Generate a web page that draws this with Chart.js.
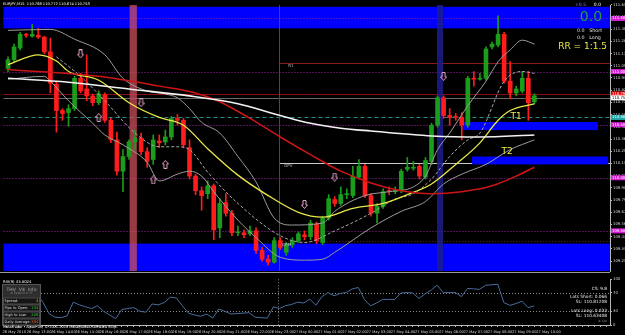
<!DOCTYPE html>
<html>
<head>
<meta charset="utf-8">
<script src="https://cdn.jsdelivr.net/npm/chart.js@4.4.1/dist/chart.umd.min.js"></script>
<style>
  html, body { margin: 0; padding: 0; background: #000; }
  #wrap { position: relative; width: 625px; height: 335px; background: #000; overflow: hidden; }
  #main { position: absolute; left: 0; top: 0; }
  #sub { position: absolute; left: 0; top: 276px; }
</style>
</head>
<body>
<div id="wrap">
  <canvas id="main" width="625" height="276"></canvas>
  <canvas id="sub" width="625" height="59"></canvas>
</div>
<script>
// EURJPY M15 candles, 26 May 12:00 onward
const opens = [111.029,111.112,111.222,111.351,111.333,111.342,111.324,111.186,110.882,110.633,
  110.614,110.651,110.937,110.836,110.771,110.707,110.780,110.541,110.357,110.062,
  110.200,110.338,110.375,110.246,110.172,110.347,110.338,110.384,110.559,110.541,
  110.283,110.016,109.878,109.850,109.924,109.528,109.767,109.666,109.482,109.482,
  109.472,109.500,109.316,109.233,109.205,109.408,109.298,109.371,109.408,109.463,
  109.445,109.565,109.390,109.620,109.795,109.758,109.841,109.832,110.007,110.108,
  109.832,109.666,109.730,109.878,109.869,109.878,110.080,110.090,110.108,110.007,
  110.154,110.495,110.753,110.587,110.578,110.568,110.495,110.937,110.928,110.937,
  111.232,111.250,111.351,110.909,110.799,110.817,110.937,110.716];
const highs = [111.139,111.259,111.370,111.360,111.443,111.407,111.333,111.314,110.909,110.651,
  110.688,110.955,110.983,111.158,110.789,110.817,110.799,110.559,110.430,110.265,
  110.357,110.449,110.421,110.283,110.403,110.403,110.449,110.578,110.596,110.559,
  110.357,110.034,109.914,109.970,109.942,109.804,109.850,109.694,109.546,109.509,
  109.546,109.528,109.344,109.270,109.436,109.436,109.390,109.436,109.491,109.500,
  109.601,109.583,109.638,109.841,109.822,109.914,109.896,110.108,110.172,110.126,
  109.850,109.758,109.896,109.914,109.914,110.080,110.191,110.154,110.126,110.191,
  110.513,110.771,110.771,110.651,110.605,110.614,110.955,111.001,110.983,111.232,
  111.278,111.526,111.370,111.093,110.863,111.001,111.001,110.789];
const lows = [111.001,111.093,111.204,111.324,111.324,111.314,111.167,110.799,110.430,110.541,
  110.486,110.633,110.799,110.725,110.679,110.688,110.522,110.330,110.025,109.869,
  110.172,110.265,110.218,110.099,110.126,110.283,110.310,110.357,110.495,110.283,
  109.988,109.841,109.694,109.804,109.417,109.436,109.638,109.454,109.454,109.436,
  109.454,109.288,109.215,109.178,109.196,109.325,109.270,109.344,109.390,109.417,
  109.417,109.380,109.371,109.601,109.730,109.740,109.804,109.813,109.988,109.813,
  109.638,109.574,109.712,109.841,109.850,109.859,110.062,110.071,109.988,109.988,
  110.126,110.476,110.559,110.495,110.541,110.357,110.476,110.863,110.918,110.918,
  111.213,111.232,110.891,110.743,110.771,110.799,110.541,110.697];
const closes = [111.112,111.232,111.351,111.342,111.351,111.324,111.186,110.891,110.633,110.605,
  110.651,110.937,110.817,110.771,110.707,110.789,110.541,110.357,110.062,110.200,
  110.338,110.375,110.246,110.154,110.357,110.329,110.384,110.559,110.541,110.310,
  110.016,109.878,109.832,109.924,109.509,109.758,109.666,109.482,109.491,109.463,
  109.500,109.316,109.233,109.205,109.408,109.344,109.371,109.408,109.472,109.445,
  109.574,109.408,109.620,109.804,109.758,109.841,109.850,110.016,110.108,109.832,
  109.666,109.730,109.869,109.869,109.878,110.062,110.099,110.099,110.016,110.163,
  110.495,110.753,110.587,110.568,110.568,110.495,110.937,110.928,110.937,111.213,
  111.259,111.351,110.909,110.799,110.836,110.937,110.707,110.771];

// indicator lines, read as [bar, price]
const yellowMA = [[0,111.066],[5,111.158],[8,111.100],[10,111.001],[15,110.918],[20,110.707],[25,110.568],
  [29,110.495],[33,110.274],[38,110.025],[43,109.832],[48,109.675],[52,109.629],[57,109.712],[62,109.758],
  [66,109.841],[70,109.942],[74,110.126],[78,110.329],[81,110.541],[83,110.633],[87,110.697]];
const redMA = [[0,111.020],[15,110.955],[25,110.863],[31,110.799],[35,110.716],[40,110.559],[45,110.384],
  [50,110.218],[55,110.062],[60,109.951],[65,109.878],[70,109.850],[75,109.869],[80,109.924],[84,110.016],[87,110.099]];
const whiteMA = [[0,110.937],[10,110.900],[20,110.836],[30,110.771],[38,110.697],[45,110.587],[50,110.513],
  [55,110.467],[60,110.440],[70,110.394],[78,110.384],[87,110.403]];
const upperBand = [[0,111.388],[7,111.397],[11,111.305],[16,111.158],[19,110.937],[23,110.817],[26,110.789],
  [28,110.753],[30,110.651],[32,110.522],[35,110.421],[38,110.200],[41,109.960],[44,109.620],[47,109.555],
  [52,109.574],[54,109.684],[59,109.832],[63,109.869],[67,109.914],[69,110.016],[71,110.265],[73,110.421],
  [76,110.679],[79,110.909],[81,111.093],[83,111.204],[85,111.296],[87,111.259]];
const middleBand = [[8,111.139],[12,110.955],[16,110.725],[21,110.421],[25,110.292],[28,110.292],[30,110.265],
  [33,110.053],[38,109.758],[45,109.454],[49,109.390],[54,109.500],[60,109.666],[64,109.800],[67,109.850],
  [70,109.988],[73,110.200],[76,110.357],[78,110.421],[82,110.909],[85,111.001],[87,110.983]];
const lowerBand = [[0,110.928],[6,110.955],[7,110.909],[10,110.725],[14,110.513],[16,110.403],[19,110.310],
  [23,110.145],[25,109.970],[28,110.034],[30,110.062],[32,110.016],[34,109.869],[38,109.601],[41,109.436],
  [45,109.251],[49,109.224],[52,109.233],[54,109.298],[60,109.528],[65,109.684],[69,109.776],[72,109.942],
  [75,110.034],[79,110.126],[83,110.265],[87,110.357]];

const arrowsUp = [[15,110.568],[24,109.979],[26,110.126]];
const arrowsDown = [[12,111.167],[22,110.707],[49,109.749],[54,110.007],[72,110.955]];

const rsiValues = [60,66,72,70,70,66,50,25,17,16,20,50,44,40,36,42,30,22,14,34,
  36,38,30,28,46,44,49,61,59,42,26,22,19,24,15,35,30,24,25,26,
  27,17,16,15,40,36,42,45,50,48,57,43,62,71,64,69,71,79,82,56,
  42,48,56,56,56,70,71,70,58,68,76,87,71,71,71,62,80,79,78,87,
  88,89,49,43,47,52,38,42];

// levels and zones (price)
const roundLevels = [111.5, 111.0, 110.5, 110.0, 109.5];
const redLevel = 110.790;
const bidLevel = 110.753;
const tealLevel = 110.568;
const r1Level = 111.080;
const dpvLevel = 110.140;
const s1Level = 109.400;
const topZone = [111.407, 111.610];
const bottomZone = [109.122, 109.380];
const t1Zone = [110.449, 110.525];
const t2Zone = [110.126, 110.200];
const t1Bars = [75.1, 97.5];
const t2Bars = [76.7, 99.2];
const redTimeZone = [20.1, 21.3];
const blueTimeZone = [70.9, 71.9];
const dayStartBar = 45;

const priceTicks = [111.630,111.515,111.400,111.285,111.170,111.055,110.940,110.825,110.710,110.595,110.480,
  110.365,110.250,110.135,110.020,109.905,109.790,109.675,109.560,109.445,109.330,109.215];
const rsiTicks = [100, 70, 30, 0];
const timeLabels = ['26 May 2010','26 May 13:00','26 May 14:00','26 May 15:00','26 May 16:00','26 May 17:00',
  '26 May 18:00','26 May 19:00','26 May 20:00','26 May 21:00','26 May 22:00','26 May 23:00','27 May 00:00',
  '27 May 01:00','27 May 02:00','27 May 03:00','27 May 04:00','27 May 05:00','27 May 06:00','27 May 07:00',
  '27 May 08:00','27 May 09:00','27 May 10:00'];

const SLOTS = 100;
const slots = Array.from({ length: SLOTS }, (_, i) => i);
const UP = '#1c9c1c', DOWN = '#ff1c1c';
const FONT = 'DejaVu Sans';
const candleColors = opens.map((o, i) => closes[i] >= o ? UP : DOWN);
const pts = arr => arr.map(([x, y]) => ({ x, y }));

function arrowImg(up) {
  const c = document.createElement('canvas');
  c.width = 7; c.height = 9;
  const g = c.getContext('2d');
  g.strokeStyle = '#e8a6c8';
  g.lineWidth = 1;
  const p = up
    ? [[3.5,0.5],[6.5,4],[5,4],[5,8.5],[2,8.5],[2,4],[0.5,4]]
    : [[3.5,8.5],[6.5,5],[5,5],[5,0.5],[2,0.5],[2,5],[0.5,5]];
  g.beginPath();
  g.moveTo(p[0][0], p[0][1]);
  p.slice(1).forEach(q => g.lineTo(q[0], q[1]));
  g.closePath();
  g.stroke();
  return c;
}

function hline(ctx, x0, x1, y, color, dash) {
  ctx.save();
  ctx.strokeStyle = color;
  ctx.lineWidth = 1;
  ctx.setLineDash(dash || []);
  ctx.beginPath();
  ctx.moveTo(x0, Math.round(y) + 0.5);
  ctx.lineTo(x1, Math.round(y) + 0.5);
  ctx.stroke();
  ctx.restore();
}

function txt(ctx, s, x, y, size, color, align) {
  ctx.font = size + 'px "' + FONT + '"';
  ctx.fillStyle = color;
  ctx.textAlign = align || 'left';
  ctx.textBaseline = 'middle';
  ctx.fillText(s, x, y);
}

const mainDecor = {
  id: 'mainDecor',
  beforeDatasetsDraw(chart) {
    const { ctx, chartArea: a, scales: { x, y } } = chart;
    const px = v => x.getPixelForValue(v), py = v => y.getPixelForValue(v);
    ctx.save();
    // blue zones
    ctx.fillStyle = '#0000ff';
    ctx.fillRect(a.left - 1.5, py(topZone[1]), a.right - a.left + 1.5, py(topZone[0]) - py(topZone[1]));
    ctx.fillRect(a.left - 1.5, py(bottomZone[1]), a.right - a.left + 1.5, a.bottom - py(bottomZone[1]));
    // levels
    roundLevels.forEach(v => hline(ctx, a.left - 1.5, a.right, py(v), '#a020a8', [1, 2]));
    hline(ctx, a.left - 1.5, a.right, py(redLevel), '#8a0c0c');
    hline(ctx, a.left - 1.5, a.right, py(bidLevel), '#6a6a6a');
    hline(ctx, a.left - 1.5, a.right, py(tealLevel), '#1f8c8c', [4, 3]);
    const d0 = px(dayStartBar) - 1;
    hline(ctx, d0, a.right, py(r1Level), '#8a1c1c');
    hline(ctx, d0, a.right, py(dpvLevel), '#c8c8c8');
    hline(ctx, d0, a.right, py(s1Level), '#7a2020', [1, 2]);
    // time zones
    ctx.fillStyle = 'rgba(205,78,92,0.74)';
    ctx.fillRect(px(redTimeZone[0]), a.top, px(redTimeZone[1]) - px(redTimeZone[0]), a.bottom - a.top);
    ctx.fillStyle = 'rgba(28,28,140,0.85)';
    ctx.fillRect(px(blueTimeZone[0]), a.top, px(blueTimeZone[1]) - px(blueTimeZone[0]), a.bottom - a.top);
    // day separator
    ctx.strokeStyle = '#4a4a4a';
    ctx.beginPath();
    ctx.moveTo(Math.round(d0) + 0.5, a.top);
    ctx.lineTo(Math.round(d0) + 0.5, a.bottom);
    ctx.stroke();
    // target boxes
    ctx.fillStyle = '#0000ff';
    ctx.fillRect(px(t1Bars[0]), py(t1Zone[1]), px(t1Bars[1]) - px(t1Bars[0]), py(t1Zone[0]) - py(t1Zone[1]));
    ctx.fillRect(px(t2Bars[0]), py(t2Zone[1]), px(t2Bars[1]) - px(t2Bars[0]), py(t2Zone[0]) - py(t2Zone[1]));
    ctx.restore();
  },
  afterDraw(chart) {
    const { ctx, chartArea: a, scales: { x, y } } = chart;
    const px = v => x.getPixelForValue(v), py = v => y.getPixelForValue(v);
    ctx.save();
    const d0 = px(dayStartBar);
    txt(ctx, 'R1', d0 + 8, py(r1Level) + 3, 4, '#b8b8b8');
    txt(ctx, 'DPV', d0 + 4, py(dpvLevel) + 3.5, 4, '#b8b8b8');
    txt(ctx, 'CPM', d0 + 2, py(bottomZone[1]) + 1, 4, '#d0d0d0');
    txt(ctx, 'T1', px(84), py(t1Zone[1]) - 5, 9, '#ecec50', 'center');
    txt(ctx, 'T2', px(82.5), py(t2Zone[1]) - 5, 9, '#ecec50', 'center');
    // header
    txt(ctx, 'EURJPY,M15  110.768 110.772 110.674 110.753', 3, 4.5, 3.6, '#ffffff');
    // trade panel
    txt(ctx, '+0.5', 586, 5, 4.5, '#7a7aff', 'right');
    txt(ctx, '0.0', 601, 5, 4.5, '#ffffff', 'right');
    txt(ctx, '0.0', 591, 17, 14, '#22a03c', 'center');
    txt(ctx, '0.0   Short', 577, 30.5, 4.8, '#e0e0e0');
    txt(ctx, '0.0   Long', 577, 38, 4.8, '#e0e0e0');
    txt(ctx, 'RR = 1:1.5', 607, 46.5, 9, '#e8e850', 'right');
    // axis marker labels
    const tag = (v, bg, fg) => {
      ctx.fillStyle = bg;
      ctx.fillRect(a.right + 1, py(v) - 2.5, 14, 5);
      txt(ctx, v.toFixed(3), a.right + 2, py(v), 3.8, fg);
    };
    roundLevels.forEach(v => tag(v, '#d21ed2', '#ffffff'));
    tag(redLevel, '#e01010', '#ffffff');
    tag(bidLevel, '#ffffff', '#000000');
    tag(tealLevel, '#22a8a8', '#ffffff');
    // panel separator
    hline(ctx, 0, a.right, a.bottom + 1, '#9a9a9a');
    ctx.restore();
  }
};

const subDecor = {
  id: 'subDecor',
  beforeDatasetsDraw(chart) {
    const { ctx, chartArea: a, scales: { x, y } } = chart;
    const px = v => x.getPixelForValue(v), py = v => y.getPixelForValue(v);
    ctx.save();
    hline(ctx, a.left - 1.5, a.right, py(70), '#8a8a8a', [1, 2]);
    hline(ctx, a.left - 1.5, a.right, py(30), '#8a8a8a', [1, 2]);
    ctx.strokeStyle = '#8a8a8a';
    ctx.setLineDash([1, 2]);
    const d0 = Math.round(px(dayStartBar) - 1) + 0.5;
    ctx.beginPath();
    ctx.moveTo(d0, a.top);
    ctx.lineTo(d0, a.bottom);
    ctx.stroke();
    ctx.restore();
  },
  afterDraw(chart) {
    const { ctx } = chart;
    ctx.save();
    txt(ctx, 'RSI(9) 43.8024', 3, 6, 3.8, '#ffffff');
    // info box
    ctx.fillStyle = '#2e2e2e';
    ctx.fillRect(2, 8.5, 39, 41);
    ctx.strokeStyle = '#555555';
    ctx.strokeRect(2.5, 8.5, 38, 41);
    txt(ctx, 'THV  V4  Info', 21.5, 13.5, 4.6, '#a8a8a8', 'center');
    txt(ctx, '® Patel D in FF', 21.5, 17.5, 3, '#808080', 'center');
    const rows = [['Spread:', '3', '#e8a030'], ['Pips to Open:', '134', '#30c030'],
      ['High to Low:', '226', '#30c030'], ['Daily Average:', '304', '#e86020']];
    rows.forEach((r, k) => {
      const yy = 25 + k * 7;
      ctx.fillStyle = '#151515';
      ctx.fillRect(3, yy - 3, 37, 6);
      ctx.strokeStyle = '#4a4a4a';
      ctx.strokeRect(3.5, yy - 3, 36, 6);
      txt(ctx, r[0], 4.5, yy, 3.6, '#d8d8d8');
      txt(ctx, r[1], 38.5, yy, 3.8, r[2], 'right');
    });
    txt(ctx, 'MetaTrader - Alpari UK, © 2001-2010 MetaQuotes Software Corp.', 3, 51.5, 3.5, '#ffffff');
    // lot calculator
    txt(ctx, 'CS: 9.8', 607, 13, 4.3, '#e8e8e8', 'right');
    txt(ctx, 'Lots Short: 0.066', 607, 21, 4.3, '#e8e8e8', 'right');
    txt(ctx, 'SL: 110.81208', 607, 26, 4.3, '#e8e8e8', 'right');
    txt(ctx, 'Lots Long: 0.033', 607, 35, 4.3, '#e8e8e8', 'right');
    txt(ctx, 'SL: 110.63408', 607, 40, 4.3, '#e8e8e8', 'right');
    txt(ctx, '® Cm', 607, 45, 3, '#9a9a9a', 'right');
    ctx.restore();
  }
};

const lineDs = (data, color, width, dash) => ({
  type: 'line', data: pts(data), borderColor: color, borderWidth: width, borderDash: dash || [],
  pointRadius: 0, cubicInterpolationMode: 'monotone', order: 1
});

new Chart(document.getElementById('main'), {
  type: 'bar',
  data: {
    labels: slots,
    datasets: [
      { type: 'line', data: pts(arrowsUp), showLine: false, pointStyle: arrowImg(true), pointRadius: 4, order: 0 },
      { type: 'line', data: pts(arrowsDown), showLine: false, pointStyle: arrowImg(false), pointRadius: 4, order: 0 },
      lineDs(whiteMA, '#f2f2f2', 1.6),
      lineDs(redMA, '#cc1616', 1.5),
      lineDs(yellowMA, '#e8e848', 1.3),
      lineDs(upperBand, '#9c9c9c', 1),
      lineDs(lowerBand, '#9c9c9c', 1),
      lineDs(middleBand, '#a8a8a8', 1, [3, 2]),
      { data: opens.map((o, i) => [o, closes[i]]), backgroundColor: candleColors, barThickness: 4,
        minBarLength: 1, grouped: false, order: 2 },
      { data: lows.map((l, i) => [l, highs[i]]), backgroundColor: candleColors, barThickness: 1,
        grouped: false, order: 3 }
    ]
  },
  options: {
    responsive: false, animation: false, devicePixelRatio: 1, events: [],
    layout: { padding: { top: 2, left: 3.5, right: 0, bottom: 2 } },
    plugins: { legend: { display: false }, tooltip: { enabled: false } },
    scales: {
      x: { type: 'category', offset: true, display: false },
      y: {
        position: 'right', min: 109.122, max: 111.627,
        afterFit: s => { s.width = 15; },
        afterBuildTicks: s => { s.ticks = priceTicks.map(v => ({ value: v })); },
        ticks: { autoSkip: false, padding: 1, color: '#d8d8d8', font: { size: 3.8, family: FONT },
          callback: v => v.toFixed(3) },
        grid: { drawOnChartArea: false, tickLength: 2, color: '#b8b8b8' },
        border: { color: '#b8b8b8' }
      }
    }
  },
  plugins: [mainDecor]
});

new Chart(document.getElementById('sub'), {
  type: 'line',
  data: {
    labels: slots,
    datasets: [{ data: rsiValues, borderColor: '#4a6c9c', borderWidth: 1, pointRadius: 0, tension: 0 }]
  },
  options: {
    responsive: false, animation: false, devicePixelRatio: 1, events: [],
    layout: { padding: { top: 2, left: 3.5, right: 0, bottom: 0 } },
    plugins: { legend: { display: false }, tooltip: { enabled: false } },
    scales: {
      x: {
        type: 'category', offset: true,
        afterFit: s => { s.height = 10; },
        ticks: { autoSkip: false, maxRotation: 0, minRotation: 0, align: 'start', labelOffset: -4, padding: 3,
          color: '#d8d8d8', font: { size: 3.6, family: FONT },
          callback: (v, i) => (i % 4 === 0 && i / 4 < timeLabels.length) ? timeLabels[i / 4] : '' },
        grid: { drawOnChartArea: false, tickLength: 2, color: '#b8b8b8' },
        border: { color: '#b8b8b8' }
      },
      y: {
        position: 'right', min: 0, max: 100,
        afterFit: s => { s.width = 15; },
        afterBuildTicks: s => { s.ticks = rsiTicks.map(v => ({ value: v })); },
        ticks: { autoSkip: false, padding: 1, color: '#d8d8d8', font: { size: 3.8, family: FONT } },
        grid: { drawOnChartArea: false, tickLength: 2, color: '#b8b8b8' },
        border: { color: '#b8b8b8' }
      }
    }
  },
  plugins: [subDecor]
});
</script>
</body>
</html>
